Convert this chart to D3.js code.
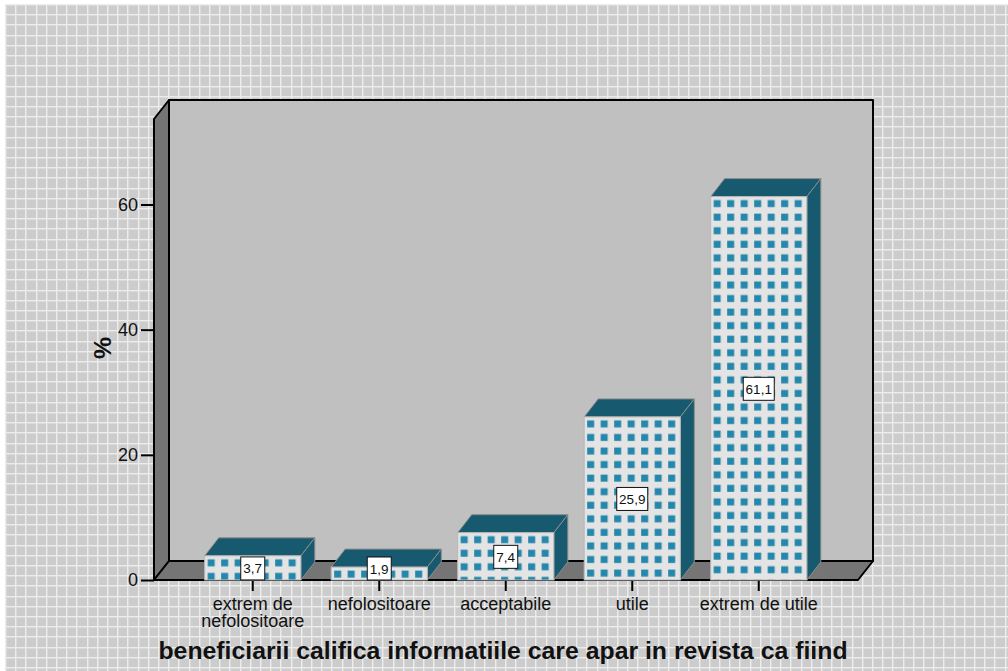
<!DOCTYPE html>
<html><head><meta charset="utf-8">
<style>html,body{margin:0;padding:0;background:#fff}svg{display:block}text{font-family:"Liberation Sans",Arial,sans-serif;fill:#111}</style>
<script src="https://cdn.jsdelivr.net/npm/d3@7/dist/d3.min.js"></script>
</head><body><div id="c"></div>
<script>
const categories=[["extrem de","nefolositoare"],["nefolositoare"],["acceptabile"],["utile"],["extrem de utile"]];
const values=[3.7,1.9,7.4,25.9,61.1];
const labels=["3,7","1,9","7,4","25,9","61,1"];
const yTicks=[0,20,40,60];
const xTitle="beneficiarii califica informatiile care apar in revista ca fiind";
const yTitle="%";

const W=1008,H=671;
const dx=15,dy=-19;
const plot={l:154,r:858,b:580,t:119};
const svg=d3.select("#c").append("svg").attr("width",W).attr("height",H);
const defs=svg.append("defs");

// background lattice
const gp=10.2,gx0=5,gy0=4;
const bg=svg.append("g").attr("shape-rendering","crispEdges");
bg.append("rect").attr("x",gx0).attr("y",gy0).attr("width",W-gx0).attr("height",H-gy0).attr("fill","#cccccc");
const vs=d3.range(0,Math.ceil((W-gx0)/gp)),hs=d3.range(0,Math.ceil((H-gy0)/gp));
bg.selectAll("rect.v2").data(vs).join("rect").attr("class","v2")
  .attr("x",i=>Math.round(gx0+i*gp)+1).attr("y",gy0).attr("width",1).attr("height",H-gy0).attr("fill","#dadada");
bg.selectAll("rect.h2").data(hs).join("rect").attr("class","h2")
  .attr("x",gx0).attr("y",i=>Math.round(gy0+i*gp)+1).attr("width",W-gx0).attr("height",1).attr("fill","#dadada");
bg.selectAll("rect.v").data(vs).join("rect").attr("class","v")
  .attr("x",i=>Math.round(gx0+i*gp)).attr("y",gy0).attr("width",1).attr("height",H-gy0).attr("fill","#ececec");
bg.selectAll("rect.h").data(hs).join("rect").attr("class","h")
  .attr("x",gx0).attr("y",i=>Math.round(gy0+i*gp)).attr("width",W-gx0).attr("height",1).attr("fill","#ececec");

const y=d3.scaleLinear().domain([0,60]).range([plot.b,204.5]);
const x=d3.scaleBand().domain(d3.range(values.length)).range([189.5,822]).paddingInner(0.24).paddingOuter(0.12);
const ink="#000";

const line=d3.line();
const poly=(pts,fill,stroke,sw)=>svg.append("path").attr("d",line(pts)+"Z").attr("fill",fill).attr("stroke",stroke||"none").attr("stroke-width",sw||0).attr("stroke-linejoin","round");
poly([[plot.l+dx,plot.t+dy],[plot.r+dx,plot.t+dy],[plot.r+dx,plot.b+dy],[plot.l+dx,plot.b+dy]],"#c0c0c0",ink,2);
poly([[plot.l,plot.t],[plot.l+dx,plot.t+dy],[plot.l+dx,plot.b+dy],[plot.l,plot.b]],"#757575",ink,2);
poly([[plot.l,plot.b],[plot.l+dx,plot.b+dy],[plot.r+dx,plot.b+dy],[plot.r,plot.b]],"#757575",ink,2);

const yAxis=d3.axisLeft(y).tickValues(yTicks).tickSize(13).tickPadding(3).tickFormat(d3.format("d"));
const gy=svg.append("g").attr("transform",`translate(${plot.l},0)`).call(yAxis);
gy.select(".domain").remove();
gy.selectAll("line").attr("stroke",ink).attr("stroke-width",2);
gy.selectAll("text").attr("font-size",18).style("font-family",'"Liberation Sans",Arial,sans-serif').attr("fill","#111");

const xAxis=d3.axisBottom(x).tickSize(11).tickFormat("");
const gx=svg.append("g").attr("transform",`translate(0,${plot.b})`).call(xAxis);
gx.select(".domain").remove();
gx.selectAll("line").attr("stroke",ink).attr("stroke-width",2);

const pitchX=13.5,pitchY=13.56,win=7,offX=3,offY=3.5,bdy=-18,bdx=14;
const bars=svg.selectAll("g.bar").data(values).join("g").attr("class","bar");
bars.each(function(v,i){
  const g=d3.select(this),x0=x(i),w=x.bandwidth(),x1=x0+w,t=y(v)-1,b=y(0);
  const p=defs.append("pattern").attr("id","p"+i).attr("patternUnits","userSpaceOnUse")
    .attr("x",x0).attr("y",t).attr("width",pitchX).attr("height",pitchY);
  p.append("rect").attr("width",pitchX).attr("height",pitchY).attr("fill","#e4e4e4");
  p.append("rect").attr("x",offX).attr("y",offY).attr("width",win).attr("height",win).attr("fill","#2487ab");
  g.append("path").attr("d",line([[x0,t],[x0+bdx,t+bdy],[x1+bdx,t+bdy],[x1,t]])+"Z").attr("fill","#17596e").attr("stroke","#8c8c8c").attr("stroke-width",1);
  g.append("path").attr("d",line([[x1,t],[x1+bdx,t+bdy],[x1+bdx,b+bdy],[x1,b]])+"Z").attr("fill","#17596e").attr("stroke","#8c8c8c").attr("stroke-width",1);
  g.append("rect").attr("x",x0).attr("y",t).attr("width",w).attr("height",b-t).attr("fill",`url(#p${i})`).attr("stroke","#b8b8b8").attr("stroke-width",1);
});

bars.each(function(v,i){
  const g=d3.select(this),cx=x(i)+x.bandwidth()/2,cy=(y(v)+y(0))/2;
  const bw=labels[i].length>3?31:24,bh=23;
  const c=Math.min(cy,y(0)-bh/2);
  g.append("rect").attr("x",cx-bw/2).attr("y",c-bh/2).attr("width",bw).attr("height",bh).attr("fill","#fff").attr("stroke","#111").attr("stroke-width",1);
  g.append("text").attr("x",cx).attr("y",c+5).attr("text-anchor","middle").attr("font-size",13.5).text(labels[i]);
});

const cat=svg.selectAll("text.cat").data(categories).join("text").attr("class","cat").attr("text-anchor","middle").attr("font-size",18);
cat.each(function(c,i){
  d3.select(this).selectAll("tspan").data(c).join("tspan")
    .attr("x",x(i)+x.bandwidth()/2).attr("y",(d,j)=>609.5+j*17.5).text(d=>d);
});

svg.append("text").attr("x",503).attr("y",659).attr("text-anchor","middle").attr("font-size",24.8).attr("font-weight","bold").text(xTitle);
svg.append("text").attr("transform","translate(111,348) rotate(-90)").attr("text-anchor","middle").attr("font-size",24.8).attr("font-weight","bold").text(yTitle);
</script></body></html>
